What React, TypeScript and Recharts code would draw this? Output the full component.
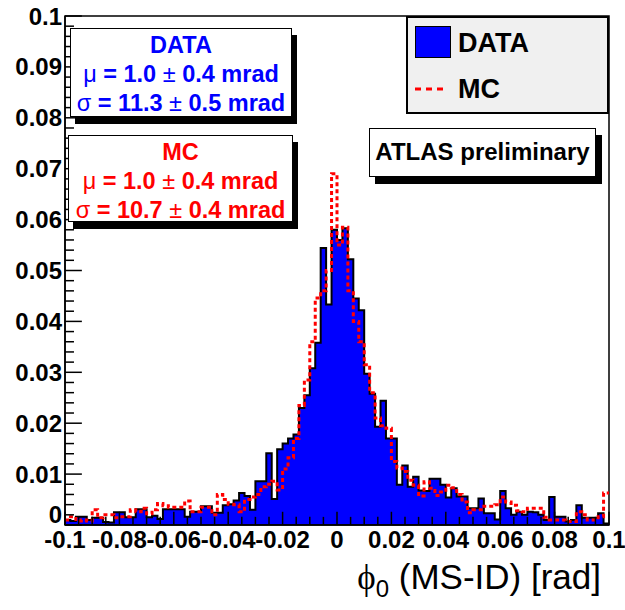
import {
  Area,
  ComposedChart,
  Line,
  ReferenceArea,
  ReferenceLine,
  XAxis,
  YAxis,
} from "recharts";

// bin contents, 100 bins of 0.002 rad from -0.1 to 0.1
const dataHist = [
  0.001, 0.0008, 0.0016, 0.0016, 0.001, 0.0014, 0.0014, 0.0006, 0.0005, 0.0025,
  0.0025, 0.0015, 0.0015, 0.0031, 0.0031, 0.0015, 0.0018, 0.0012, 0.0031, 0.0031,
  0.0031, 0.0031, 0.0016, 0.0026, 0.0026, 0.0037, 0.0037, 0.0024, 0.0024, 0.0039,
  0.0041, 0.0048, 0.0063, 0.0057, 0.003, 0.0086, 0.0086, 0.0141, 0.0051, 0.0149,
  0.016, 0.017, 0.0178, 0.023, 0.0255, 0.0308, 0.0358, 0.0544, 0.0433, 0.058,
  0.056, 0.0583, 0.0522, 0.0445, 0.0422, 0.0297, 0.0258, 0.0193, 0.0244, 0.017,
  0.017, 0.0079, 0.0117, 0.0075, 0.0095, 0.0068, 0.0067, 0.0091, 0.0091, 0.0079,
  0.0054, 0.0072, 0.0056, 0.0056, 0.0033, 0.0033, 0.0052, 0.0023, 0.0023, 0.0011,
  0.0067, 0.0033, 0.002, 0.0026, 0.002, 0.0026, 0.0025, 0.002, 0.001, 0.0055,
  0.0016, 0.0016, 0.0007, 0.001, 0.0039, 0.0014, 0.0014, 0.0014, 0.0023, 0.0003,
];

const mcHist = [
  0.001, 0.0016, 0.0008, 0.001, 0.0008, 0.003, 0.0014, 0.002, 0.002, 0.0014,
  0.0016, 0.0016, 0.003, 0.0026, 0.0033, 0.0022, 0.003, 0.0042, 0.0038, 0.0035,
  0.0035, 0.0035, 0.0047, 0.0026, 0.0026, 0.0035, 0.0035, 0.002, 0.006, 0.005,
  0.0041, 0.004, 0.0026, 0.005, 0.0055, 0.006, 0.0075, 0.008, 0.0086, 0.0069,
  0.011, 0.0132, 0.017, 0.0235, 0.0285, 0.036, 0.0446, 0.046, 0.05, 0.069,
  0.055, 0.0585, 0.046, 0.04, 0.036, 0.0315, 0.026, 0.021, 0.0195, 0.019,
  0.0125, 0.0112, 0.0105, 0.0088, 0.0078, 0.0057, 0.0085, 0.0072, 0.0058, 0.0065,
  0.0078, 0.0073, 0.006, 0.0045, 0.0024, 0.003, 0.003, 0.0037, 0.0037, 0.004,
  0.0055, 0.0045, 0.0039, 0.0028, 0.0026, 0.0033, 0.0033, 0.0033, 0.0015, 0.001,
  0.001, 0.001, 0.0007, 0.0007, 0.0026, 0.002, 0.001, 0.001, 0.0016, 0.0063,
];

const xTickLabels = ["-0.1", "-0.08", "-0.06", "-0.04", "-0.02", "0", "0.02", "0.04", "0.06", "0.08", "0.1"];
const yTickLabels = ["0", "0.01", "0.02", "0.03", "0.04", "0.05", "0.06", "0.07", "0.08", "0.09", "0.1"];

const xTicks = xTickLabels.map(Number);
const yTicks = yTickLabels.map(Number);
const xMinor = Array.from({ length: 41 }, (_, i) => +(-0.1 + i * 0.005).toFixed(3));
const yMinor = Array.from({ length: 51 }, (_, i) => +(i * 0.002).toFixed(3));

const rows = Array.from({ length: 101 }, (_, i) => ({
  x: +(-0.1 + i * 0.002).toFixed(3),
  data: dataHist[Math.min(i, 99)],
  mc: mcHist[Math.min(i, 99)],
}));

const FONT = '"Liberation Sans", Arial, Helvetica, sans-serif';
const TICK_FONT = 24;

function YTick(props: any) {
  const { x, y, payload } = props;
  const label = yTickLabels[yTicks.indexOf(payload.value)] ?? String(payload.value);
  // lift the zero label so it clears the -0.1 label below it
  const shift = payload.value === 0 ? -11 : 0;
  return (
    <text
      x={x}
      y={y + shift}
      dy="0.355em"
      textAnchor="end"
      fill="#000"
      fontFamily={FONT}
      fontWeight="bold"
      fontSize={TICK_FONT}
    >
      {label}
    </text>
  );
}

function StatBox(props: {
  left: number;
  top: number;
  width: number;
  height: number;
  color: string;
  title: string;
  mu: string;
  sigma: string;
}) {
  const row = { height: 29, lineHeight: "29px" };
  return (
    <div
      style={{
        position: "absolute",
        left: props.left,
        top: props.top,
        width: props.width,
        height: props.height,
        boxSizing: "border-box",
        border: "1.5px solid #000",
        background: "#fff",
        boxShadow: "5px 7px 0 #000",
        color: props.color,
        fontFamily: FONT,
        fontWeight: "bold",
        fontSize: 23.5,
        textAlign: "center",
        paddingTop: 2,
        whiteSpace: "nowrap",
      }}
    >
      <div style={row}>{props.title}</div>
      <div style={row}>
        <span style={{ fontWeight: "normal" }}>μ</span> = {props.mu.split("±")[0]}
        <span style={{ fontWeight: "normal" }}>±</span>
        {props.mu.split("±")[1]} mrad
      </div>
      <div style={row}>
        <span style={{ fontWeight: "normal" }}>σ</span> = {props.sigma.split("±")[0]}
        <span style={{ fontWeight: "normal" }}>±</span>
        {props.sigma.split("±")[1]} mrad
      </div>
    </div>
  );
}

export default function App() {
  const tickStyle = { fill: "#000", fontFamily: FONT, fontWeight: "bold", fontSize: TICK_FONT };
  return (
    <div style={{ position: "absolute", left: 0, top: 0, width: 625, height: 610, background: "#fff" }}>
      <ComposedChart
        width={625}
        height={610}
        data={rows}
        margin={{ top: 16, right: 16, bottom: 45, left: 0 }}
      >
        <XAxis
          dataKey="x"
          type="number"
          domain={[-0.1, 0.1]}
          ticks={xTicks}
          tickFormatter={(v: number) => xTickLabels[xTicks.indexOf(v)] ?? String(v)}
          interval={0}
          height={40}
          tickLine={false}
          tickSize={0}
          tickMargin={6}
          axisLine={{ stroke: "#000", strokeWidth: 1.5 }}
          tick={tickStyle}
        />
        <YAxis
          type="number"
          domain={[0, 0.1]}
          ticks={yTicks}
          interval={0}
          width={65}
          tickLine={false}
          tickSize={0}
          tickMargin={3}
          axisLine={{ stroke: "#000", strokeWidth: 1.5 }}
          tick={<YTick />}
        />
        <Area
          type="stepAfter"
          dataKey="data"
          baseValue={0}
          fill="#0000ff"
          fillOpacity={1}
          stroke="#000"
          strokeWidth={2}
          isAnimationActive={false}
        />
        <Line
          type="stepAfter"
          dataKey="mc"
          stroke="#ff0000"
          strokeWidth={3}
          strokeDasharray="4 3"
          dot={false}
          isAnimationActive={false}
        />
        {xMinor.map((v, i) => (
          <ReferenceLine
            key={"xm" + i}
            segment={[
              { x: v, y: 0 },
              { x: v, y: i % 4 === 0 ? 0.0026 : 0.0016 },
            ]}
            stroke="#000"
            strokeWidth={1.5}
          />
        ))}
        {yMinor.map((v, i) => (
          <ReferenceLine
            key={"ym" + i}
            segment={[
              { x: -0.1, y: v },
              { x: i % 5 === 0 ? -0.0938 : -0.0967, y: v },
            ]}
            stroke="#000"
            strokeWidth={1.5}
          />
        ))}
        <ReferenceArea
          x1={-0.1}
          x2={0.1}
          y1={0}
          y2={0.1}
          fill="none"
          stroke="#000"
          strokeWidth={1.5}
        />
      </ComposedChart>

      <StatBox left={70} top={28} width={222} height={89} color="#0000ff" title="DATA" mu="1.0 ± 0.4" sigma="11.3 ± 0.5" />
      <StatBox left={68} top={135} width={225} height={87} color="#ff0000" title="MC" mu="1.0 ± 0.4" sigma="10.7 ± 0.4" />

      <div
        style={{
          position: "absolute",
          left: 406,
          top: 16,
          width: 203,
          height: 98,
          boxSizing: "border-box",
          border: "2px solid #000",
          background: "#f0f0f0",
          fontFamily: FONT,
          fontWeight: "bold",
          fontSize: 27,
        }}
      >
        <div style={{ position: "absolute", left: 7, top: 8, width: 36, height: 32, boxSizing: "border-box", background: "#0000ff", border: "1.5px solid #000" }} />
        <div style={{ position: "absolute", left: 50, top: 7, lineHeight: "36px" }}>DATA</div>
        <svg style={{ position: "absolute", left: 7, top: 68 }} width={32} height={6}>
          <line x1={0} y1={3} x2={32} y2={3} stroke="#ff0000" strokeWidth={3} strokeDasharray="6 5" />
        </svg>
        <div style={{ position: "absolute", left: 50, top: 53, lineHeight: "36px" }}>MC</div>
      </div>

      <div
        style={{
          position: "absolute",
          left: 369,
          top: 128,
          width: 227,
          height: 49,
          boxSizing: "border-box",
          border: "1.5px solid #000",
          background: "#fff",
          boxShadow: "6px 7px 0 #000",
          fontFamily: FONT,
          fontWeight: "bold",
          fontSize: 24,
          lineHeight: "46px",
          textAlign: "center",
          whiteSpace: "nowrap",
        }}
      >
        ATLAS preliminary
      </div>

      <div
        style={{
          position: "absolute",
          right: 24,
          top: 557,
          fontFamily: FONT,
          fontSize: 35,
          whiteSpace: "nowrap",
        }}
      >
        <span style={{ fontFamily: '"Liberation Serif", serif' }}>ϕ</span>
        <sub style={{ fontSize: 24 }}>0</sub> (MS-ID) [rad]
      </div>
    </div>
  );
}
